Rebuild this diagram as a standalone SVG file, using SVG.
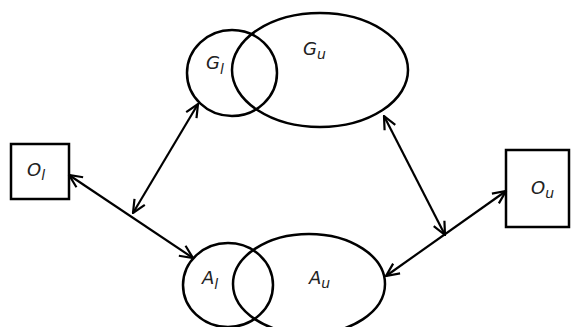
<svg xmlns="http://www.w3.org/2000/svg" width="573" height="327" viewBox="0 0 573 327">
<style>
.sh{fill:none;stroke:#000;stroke-width:2.5}
.ln{fill:none;stroke:#000;stroke-width:2.2;marker-start:url(#ah);marker-end:url(#ah)}
.t{font-family:"DejaVu Sans",sans-serif;font-style:italic;font-size:18px;fill:#222}
.s{font-size:14px}
</style>
<defs>
<marker id="ah" viewBox="0 0 15 15" refX="14" refY="7.5" markerWidth="15" markerHeight="15" markerUnits="userSpaceOnUse" orient="auto-start-reverse">
<path d="M1,1.5 L14,7.5 L1,13.5" fill="none" stroke="#000" stroke-width="2.2"/>
</marker>
</defs>
<rect width="573" height="327" fill="#fff"/>
<g id="G">
<ellipse id="Gl" class="sh" cx="232" cy="73" rx="45" ry="43"/>
<ellipse id="Gu" class="sh" cx="320" cy="70" rx="88" ry="57"/>
<text class="t" x="206" y="69">G<tspan class="s" dy="5">l</tspan></text>
<text class="t" x="303" y="55">G<tspan class="s" dy="4">u</tspan></text>
</g>
<g id="A">
<ellipse id="Al" class="sh" cx="228" cy="285" rx="45" ry="42"/>
<ellipse id="Au" class="sh" cx="309" cy="284" rx="76" ry="50"/>
<text class="t" x="202" y="284">A<tspan class="s" dy="5">l</tspan></text>
<text class="t" x="309" y="284">A<tspan class="s" dy="4">u</tspan></text>
</g>
<g id="Ol">
<rect class="sh" x="11" y="144" width="58" height="55"/>
<text class="t" x="27" y="176">O<tspan class="s" dy="4">l</tspan></text>
</g>
<g id="Ou">
<rect class="sh" x="506" y="150" width="63" height="77"/>
<text class="t" x="531" y="194">O<tspan class="s" dy="4">u</tspan></text>
</g>
<g id="connectors">
<line class="ln" x1="69" y1="175" x2="193" y2="258"/>
<line class="ln" x1="198" y1="104" x2="133" y2="213"/>
<line class="ln" x1="384" y1="116" x2="445" y2="235"/>
<line class="ln" x1="506" y1="191" x2="386" y2="276"/>
</g>
</svg>
